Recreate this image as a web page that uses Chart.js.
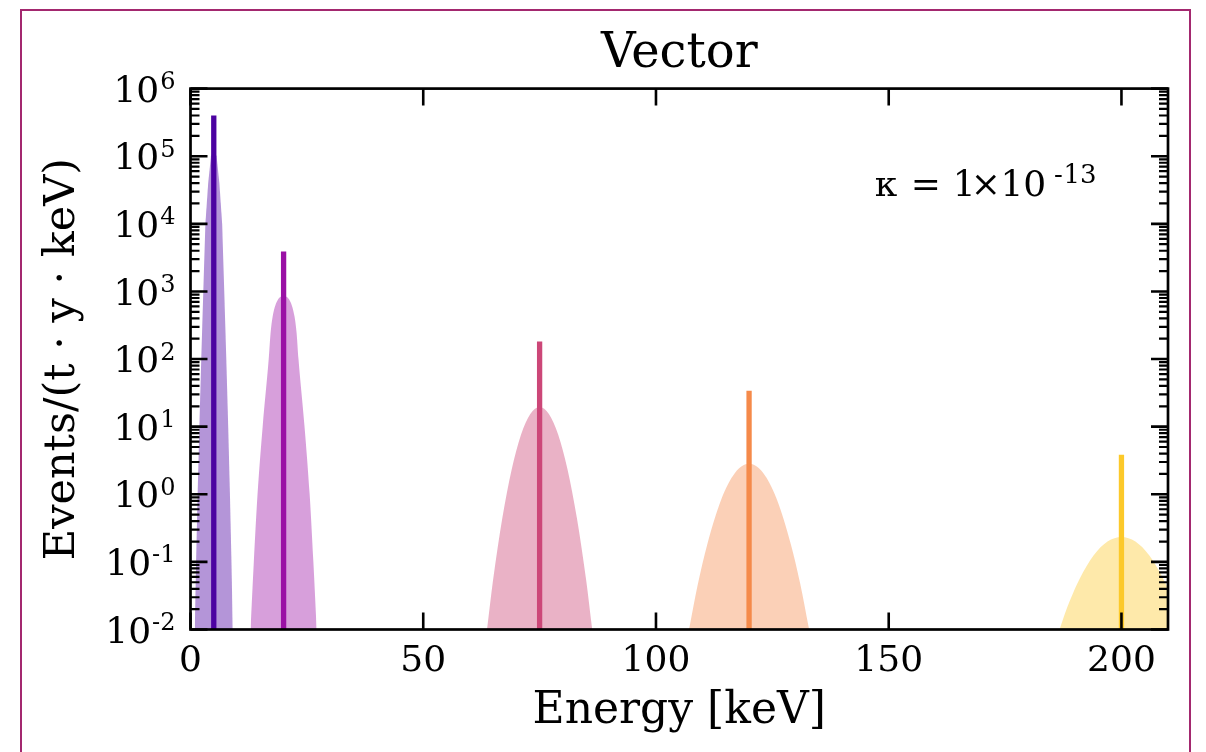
<!DOCTYPE html>
<html>
<head>
<meta charset="utf-8">
<title>Vector</title>
<script src="https://cdn.jsdelivr.net/npm/chart.js@4.4.1/dist/chart.umd.min.js"></script>
<style>
  html, body { margin: 0; padding: 0; background: #fff; }
  #wrap { position: relative; width: 1206px; height: 752px; overflow: hidden; }
  #frame { position: absolute; left: 20px; top: 9px; width: 1171px; height: 800px; border: 2px solid #a3286f; box-sizing: border-box; }
  #chart { position: absolute; left: 0; top: 0; }
</style>
</head>
<body>
<div id="wrap">
  <div id="frame"></div>
  <canvas id="chart" width="1206" height="752"></canvas>
</div>
<script>
// Líneas de absorción: energía (keV) y altura
const lineEnergies = [5, 20, 75, 120, 200];
const lineHeights = [4.0e5, 3.9e3, 182, 34, 3.85];
const lineColors = ["#4c02a1", "#9a10a5", "#cc4778", "#f58a4a", "#fcc92a"];
const fillColors = [
    "rgba(76, 2, 161, 0.42)",
    "rgba(154, 16, 165, 0.40)",
    "rgba(204, 71, 120, 0.42)",
    "rgba(245, 138, 74, 0.40)",
    "rgba(252, 201, 42, 0.40)",
];

// Picos ensanchados (energía en keV, eventos)
const peak1E = [0.92, 1.2, 1.53, 1.9, 2.31, 2.75, 3.2, 3.8, 4.4, 5, 5.6, 6.2, 6.8, 7.25, 7.69, 8.1, 8.47, 8.8, 9.08];
const peak1Y = [0.01, 0.1, 1, 10, 100, 1000, 1e4, 4e4, 1e5, 1.26e5, 1e5, 4e4, 1e4, 1000, 100, 10, 1, 0.1, 0.01];
const peak2E = [12.9, 13.6, 14.4, 15.5, 16.8, 17.2, 17.65, 18.8, 20, 21.2, 22.35, 22.8, 23.2, 24.5, 25.6, 26.4, 27.1];
const peak2Y = [0.01, 0.1, 1, 10, 100, 240, 427, 760, 850, 760, 427, 240, 100, 10, 1, 0.1, 0.01];
const peak3E = [63.7, 65, 67, 69, 71, 73, 75, 77, 79, 81, 83, 85, 86.3];
const peak3Y = [0.01, 0.054, 0.45, 2.33, 7.6, 15.4, 19.5, 15.4, 7.6, 2.33, 0.45, 0.054, 0.01];
const peak4E = [107.1, 109, 111, 114, 117, 120, 123, 126, 129, 131, 132.9];
const peak4Y = [0.01, 0.047, 0.18, 0.83, 2.08, 2.82, 2.08, 0.83, 0.18, 0.047, 0.01];
const peak5E = [186.7, 188, 190, 191, 194, 197, 200, 203, 206, 209, 210, 212];
const peak5Y = [0.01, 0.0183, 0.04, 0.056, 0.124, 0.2, 0.234, 0.2, 0.124, 0.056, 0.04, 0.0183];

const peaksE = [peak1E, peak2E, peak3E, peak4E, peak5E];
const peaksY = [peak1Y, peak2Y, peak3Y, peak4Y, peak5Y];

// Ejes
const xTicks = [0, 50, 100, 150, 200];
const yTicks = [1e-2, 1e-1, 1e0, 1e1, 1e2, 1e3, 1e4, 1e5, 1e6];
const yTickExponents = ["-2", "-1", "0", "1", "2", "3", "4", "5", "6"];
const xMin = 0, xMax = 210, yMin = 1e-2, yMax = 1e6;

const serif = "'DejaVu Serif', 'Liberation Serif', serif";
Chart.defaults.font.family = serif;
Chart.defaults.color = "#000";

// Armar datasets: relleno de cada pico + línea vertical
const datasets = [];
peaksE.forEach((energies, i) => {
    datasets.push({
        data: energies.map((e, j) => ({ x: e, y: peaksY[i][j] })),
        fill: "start",
        backgroundColor: fillColors[i],
        borderWidth: 0,
        pointRadius: 0,
        // el primer pico es muy angosto: tramos rectos
        cubicInterpolationMode: i === 0 ? "default" : "monotone",
        tension: 0,
        order: 1,
    });
});
lineEnergies.forEach((e, i) => {
    datasets.push({
        data: [{ x: e, y: yMin }, { x: e, y: lineHeights[i] }],
        borderColor: lineColors[i],
        borderWidth: 5.3,
        borderCapStyle: "butt",
        pointRadius: 0,
        fill: false,
        order: 0,
    });
});

// Marco, ticks hacia adentro, etiquetas del eje y, título y anotación
const framePlugin = {
    id: "framePlugin",
    afterDraw(chart) {
        const ctx = chart.ctx;
        const area = chart.chartArea;
        const xs = chart.scales.x;
        const ys = chart.scales.y;
        ctx.save();
        ctx.strokeStyle = "#000";

        // ticks menores del eje y
        ctx.lineWidth = 2.2;
        for (let d = -2; d < 6; d++) {
            for (let m = 2; m <= 9; m++) {
                const py = ys.getPixelForValue(m * Math.pow(10, d));
                ctx.beginPath();
                ctx.moveTo(area.left, py); ctx.lineTo(area.left + 9, py);
                ctx.moveTo(area.right, py); ctx.lineTo(area.right - 9, py);
                ctx.stroke();
            }
        }
        // ticks mayores
        ctx.lineWidth = 2.6;
        yTicks.forEach(v => {
            const py = ys.getPixelForValue(v);
            ctx.beginPath();
            ctx.moveTo(area.left, py); ctx.lineTo(area.left + 17, py);
            ctx.moveTo(area.right, py); ctx.lineTo(area.right - 17, py);
            ctx.stroke();
        });
        xTicks.forEach(v => {
            const px = xs.getPixelForValue(v);
            ctx.beginPath();
            ctx.moveTo(px, area.bottom); ctx.lineTo(px, area.bottom - 17);
            ctx.moveTo(px, area.top); ctx.lineTo(px, area.top + 17);
            ctx.stroke();
        });
        // marco
        ctx.lineWidth = 2.7;
        ctx.strokeRect(area.left, area.top, area.right - area.left, area.bottom - area.top);

        ctx.fillStyle = "#000";
        ctx.textBaseline = "alphabetic";

        // etiquetas del eje y: 10 con exponente
        ctx.textAlign = "right";
        const labelRight = area.left - 15;
        yTicks.forEach((v, i) => {
            const py = ys.getPixelForValue(v);
            ctx.font = "24px " + serif;
            const ew = ctx.measureText(yTickExponents[i]).width;
            ctx.fillText(yTickExponents[i], labelRight, py + 0.5);
            ctx.font = "36px " + serif;
            ctx.fillText("10", labelRight - ew - 1, py + 13.2);
        });

        // título
        ctx.textAlign = "center";
        ctx.font = "48px " + serif;
        ctx.fillText("Vector", (area.left + area.right) / 2, 67);

        // anotación kappa (cada pieza en su lugar)
        ctx.font = "36px " + serif;
        ctx.fillText("κ", 886, 196);
        ctx.fillText("=", 925.8, 196);
        ctx.fillText("1", 964.2, 196);
        ctx.fillText("×", 985.8, 196);
        ctx.fillText("10", 1023.3, 196);
        ctx.font = "26px " + serif;
        ctx.fillText("-", 1058.5, 182.7);
        ctx.fillText("13", 1080, 182.7);
        ctx.restore();
    },
};

new Chart(document.getElementById("chart"), {
    type: "line",
    data: { datasets: datasets },
    options: {
        responsive: false,
        animation: false,
        devicePixelRatio: 1,
        layout: { padding: { top: 88.6, right: 38, left: 0, bottom: 0 } },
        plugins: {
            legend: { display: false },
            tooltip: { enabled: false },
        },
        scales: {
            x: {
                type: "linear",
                min: xMin,
                max: xMax,
                grid: { display: false },
                border: { display: false },
                afterBuildTicks: scale => { scale.ticks = xTicks.map(v => ({ value: v })); },
                afterFit: scale => { scale.height = 122.5; },
                ticks: {
                    font: { size: 36 },
                    padding: 3,
                    maxRotation: 0,
                    callback: v => String(v),
                },
                title: {
                    display: true,
                    text: "Energy [keV]",
                    font: { size: 44 },
                    padding: { top: 14, bottom: 14 },
                },
            },
            y: {
                type: "logarithmic",
                min: yMin,
                max: yMax,
                grid: { display: false },
                border: { display: false },
                afterBuildTicks: scale => { scale.ticks = yTicks.map(v => ({ value: v })); },
                afterFit: scale => { scale.width = 190.5; },
                ticks: { display: false },
                title: {
                    display: true,
                    text: "Events/(t · y · keV)",
                    font: { size: 43 },
                    padding: { top: 37, bottom: 37 },
                },
            },
        },
    },
    plugins: [framePlugin],
});
</script>
</body>
</html>
